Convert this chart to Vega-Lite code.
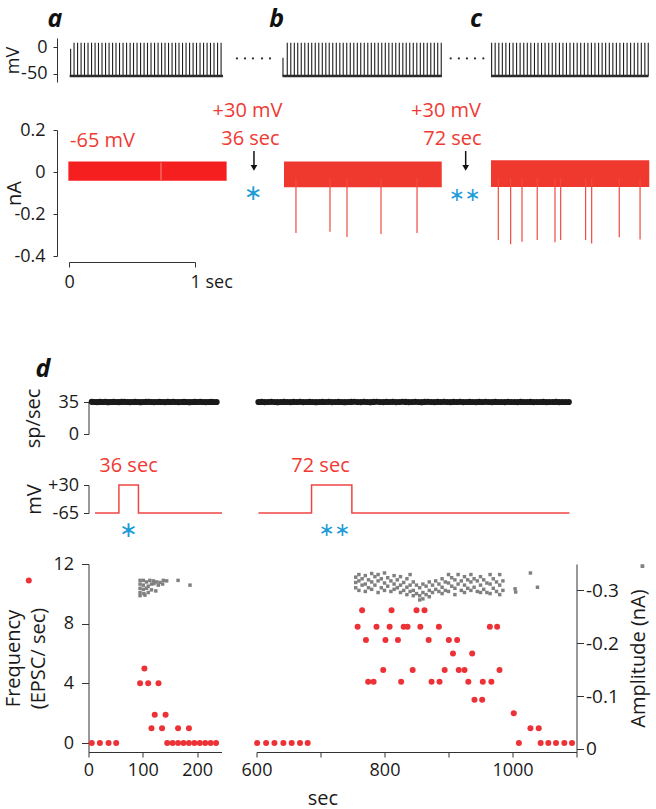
{
"$schema":"https://vega.github.io/schema/vega-lite/v6.json",
"background":"white",
"autosize":{"type":"none"},
"padding":{"left":69,"top":38,"right":587,"bottom":771},
"config":{"view":{"stroke":null},"font":"Open Sans",
 "axis":{"labelFont":"Open Sans","titleFont":"Open Sans","labelFontSize":18,"titleFontSize":20,"titleFontWeight":"normal","labelColor":"#1a1a1a","titleColor":"#1a1a1a","domainColor":"#333","tickColor":"#333","grid":false,"labelOverlap":false,"labelFlush":false}},
"datasets":{
 "spkA":[{"t":0.013,"v":-3},{"t":0.040,"v":8},{"t":0.068,"v":8},{"t":0.096,"v":8},{"t":0.123,"v":8},{"t":0.151,"v":8},{"t":0.179,"v":8},{"t":0.207,"v":8},{"t":0.234,"v":8},{"t":0.262,"v":8},{"t":0.290,"v":8},{"t":0.318,"v":8},{"t":0.346,"v":8},{"t":0.373,"v":8},{"t":0.401,"v":8},{"t":0.429,"v":8},{"t":0.457,"v":8},{"t":0.485,"v":8},{"t":0.512,"v":8},{"t":0.540,"v":8},{"t":0.568,"v":8},{"t":0.596,"v":8},{"t":0.623,"v":8},{"t":0.651,"v":8},{"t":0.679,"v":8},{"t":0.707,"v":8},{"t":0.735,"v":8},{"t":0.762,"v":8},{"t":0.790,"v":8},{"t":0.818,"v":8},{"t":0.846,"v":8},{"t":0.873,"v":8},{"t":0.901,"v":8},{"t":0.929,"v":8},{"t":0.957,"v":8},{"t":0.985,"v":8},{"t":1.012,"v":8},{"t":1.040,"v":8},{"t":1.068,"v":8},{"t":1.096,"v":8},{"t":1.123,"v":8},{"t":1.151,"v":8},{"t":1.179,"v":8},{"t":1.207,"v":8}],
 "spkB":[{"t":-0.016,"v":-20},{"t":0.018,"v":8},{"t":0.046,"v":8},{"t":0.074,"v":8},{"t":0.101,"v":8},{"t":0.129,"v":8},{"t":0.157,"v":8},{"t":0.185,"v":8},{"t":0.212,"v":8},{"t":0.240,"v":8},{"t":0.268,"v":8},{"t":0.296,"v":8},{"t":0.324,"v":8},{"t":0.351,"v":8},{"t":0.379,"v":8},{"t":0.407,"v":8},{"t":0.435,"v":8},{"t":0.462,"v":8},{"t":0.490,"v":8},{"t":0.518,"v":8},{"t":0.546,"v":8},{"t":0.574,"v":8},{"t":0.601,"v":8},{"t":0.629,"v":8},{"t":0.657,"v":8},{"t":0.685,"v":8},{"t":0.712,"v":8},{"t":0.740,"v":8},{"t":0.768,"v":8},{"t":0.796,"v":8},{"t":0.824,"v":8},{"t":0.851,"v":8},{"t":0.879,"v":8},{"t":0.907,"v":8},{"t":0.935,"v":8},{"t":0.962,"v":8},{"t":0.990,"v":8},{"t":1.018,"v":8},{"t":1.046,"v":8},{"t":1.074,"v":8},{"t":1.101,"v":8},{"t":1.129,"v":8},{"t":1.157,"v":8},{"t":1.185,"v":8},{"t":1.212,"v":8},{"t":1.240,"v":8}],
 "spkC":[{"t":0.005,"v":8},{"t":0.033,"v":8},{"t":0.062,"v":8},{"t":0.090,"v":8},{"t":0.118,"v":8},{"t":0.147,"v":8},{"t":0.175,"v":8},{"t":0.203,"v":8},{"t":0.231,"v":8},{"t":0.260,"v":8},{"t":0.288,"v":8},{"t":0.316,"v":8},{"t":0.345,"v":8},{"t":0.373,"v":8},{"t":0.401,"v":8},{"t":0.429,"v":8},{"t":0.458,"v":8},{"t":0.486,"v":8},{"t":0.514,"v":8},{"t":0.543,"v":8},{"t":0.571,"v":8},{"t":0.599,"v":8},{"t":0.627,"v":8},{"t":0.656,"v":8},{"t":0.684,"v":8},{"t":0.712,"v":8},{"t":0.741,"v":8},{"t":0.769,"v":8},{"t":0.797,"v":8},{"t":0.825,"v":8},{"t":0.854,"v":8},{"t":0.882,"v":8},{"t":0.910,"v":8},{"t":0.939,"v":8},{"t":0.967,"v":8},{"t":0.995,"v":8},{"t":1.023,"v":8},{"t":1.052,"v":8},{"t":1.080,"v":8},{"t":1.108,"v":8},{"t":1.137,"v":8},{"t":1.165,"v":8},{"t":1.193,"v":8},{"t":1.221,"v":8},{"t":1.248,"v":8}],
 "dotA":[{"t":1.333},{"t":1.397},{"t":1.46},{"t":1.532},{"t":1.595}],
 "dotB":[{"t":1.315},{"t":1.38},{"t":1.444},{"t":1.508},{"t":1.574}],
 "bands":[{"p":"a","t0":-0.005,"t1":1.251,"hi":0.05,"lo":-0.042},{"p":"b","t0":-0.008,"t1":1.244,"hi":0.05,"lo":-0.073},{"p":"c","t0":0.0,"t1":1.256,"hi":0.056,"lo":-0.071}],
 "epB":[{"t":0.087,"v":-0.29},{"t":0.357,"v":-0.285},{"t":0.492,"v":-0.31},{"t":0.762,"v":-0.295},{"t":1.048,"v":-0.29}],
 "epC":[{"t":0.058,"v":-0.324},{"t":0.156,"v":-0.344},{"t":0.246,"v":-0.332},{"t":0.367,"v":-0.324},{"t":0.508,"v":-0.335},{"t":0.553,"v":-0.324},{"t":0.751,"v":-0.324},{"t":0.799,"v":-0.34},{"t":1.018,"v":-0.311},{"t":1.183,"v":-0.321}],
 "rateL":[{"t":6,"r":35.2},{"t":11,"r":35.0},{"t":16,"r":34.9},{"t":21,"r":35.1},{"t":26,"r":35.0},{"t":31,"r":35.2},{"t":36,"r":34.8},{"t":41,"r":35.0},{"t":46,"r":35.1},{"t":51,"r":35.0},{"t":56,"r":34.9},{"t":61,"r":35.1},{"t":66,"r":35.2},{"t":71,"r":35.0},{"t":76,"r":34.9},{"t":81,"r":35.0},{"t":86,"r":35.1},{"t":91,"r":35.0},{"t":96,"r":34.8},{"t":101,"r":35.0},{"t":106,"r":35.1},{"t":111,"r":35.2},{"t":116,"r":35.0},{"t":121,"r":34.9},{"t":126,"r":35.0},{"t":131,"r":35.1},{"t":136,"r":35.0},{"t":141,"r":34.9},{"t":146,"r":35.1},{"t":151,"r":35.0},{"t":156,"r":35.2},{"t":161,"r":35.0},{"t":166,"r":34.9},{"t":171,"r":35.0},{"t":176,"r":35.1},{"t":181,"r":35.0},{"t":186,"r":34.8},{"t":191,"r":35.0},{"t":196,"r":35.1},{"t":201,"r":35.0},{"t":206,"r":35.2},{"t":211,"r":35.0},{"t":216,"r":34.9},{"t":221,"r":35.0},{"t":226,"r":35.1},{"t":231,"r":35.0},{"t":236,"r":35.0}],
 "rateR":[{"t":603,"r":35.0},{"t":608,"r":35.1},{"t":613,"r":34.9},{"t":618,"r":35.0},{"t":623,"r":35.2},{"t":628,"r":35.0},{"t":633,"r":34.8},{"t":638,"r":35.0},{"t":643,"r":35.1},{"t":648,"r":35.0},{"t":653,"r":34.9},{"t":658,"r":35.1},{"t":663,"r":35.0},{"t":668,"r":35.2},{"t":673,"r":34.9},{"t":678,"r":35.0},{"t":683,"r":35.1},{"t":688,"r":35.0},{"t":693,"r":34.8},{"t":698,"r":35.0},{"t":703,"r":35.1},{"t":708,"r":35.0},{"t":713,"r":35.2},{"t":718,"r":34.9},{"t":723,"r":35.0},{"t":728,"r":35.1},{"t":733,"r":35.0},{"t":738,"r":34.8},{"t":743,"r":35.0},{"t":748,"r":35.1},{"t":753,"r":35.3},{"t":758,"r":35.0},{"t":763,"r":34.9},{"t":768,"r":35.2},{"t":773,"r":35.0},{"t":778,"r":34.8},{"t":783,"r":35.1},{"t":788,"r":35.3},{"t":793,"r":35.0},{"t":798,"r":34.9},{"t":803,"r":35.1},{"t":808,"r":35.0},{"t":813,"r":35.2},{"t":818,"r":34.9},{"t":823,"r":35.0},{"t":828,"r":35.3},{"t":833,"r":35.1},{"t":838,"r":34.9},{"t":843,"r":35.0},{"t":848,"r":35.2},{"t":853,"r":35.0},{"t":858,"r":34.8},{"t":863,"r":35.1},{"t":868,"r":35.2},{"t":873,"r":35.0},{"t":878,"r":34.9},{"t":883,"r":35.1},{"t":888,"r":35.0},{"t":893,"r":35.2},{"t":898,"r":35.0},{"t":903,"r":34.9},{"t":908,"r":35.1},{"t":913,"r":35.0},{"t":918,"r":35.2},{"t":923,"r":34.9},{"t":928,"r":35.0},{"t":933,"r":35.1},{"t":938,"r":35.0},{"t":943,"r":34.9},{"t":948,"r":35.1},{"t":953,"r":35.0},{"t":958,"r":35.2},{"t":963,"r":35.0},{"t":968,"r":34.9},{"t":973,"r":35.1},{"t":978,"r":35.0},{"t":983,"r":35.0},{"t":988,"r":34.9},{"t":993,"r":35.1},{"t":998,"r":35.0},{"t":1003,"r":35.0},{"t":1008,"r":34.9},{"t":1013,"r":35.1},{"t":1018,"r":35.0},{"t":1023,"r":35.0},{"t":1028,"r":35.1},{"t":1033,"r":34.9},{"t":1038,"r":35.0},{"t":1043,"r":35.0},{"t":1048,"r":35.1},{"t":1053,"r":34.9},{"t":1058,"r":35.0},{"t":1063,"r":35.0},{"t":1068,"r":35.1},{"t":1073,"r":34.9},{"t":1078,"r":35.0},{"t":1083,"r":35.0},{"t":1088,"r":35.0}],
 "stepL":[{"t":12,"v":-65},{"t":56,"v":30},{"t":92,"v":-65},{"t":246,"v":-65}],
 "stepR":[{"t":603,"v":-65},{"t":686,"v":30},{"t":749,"v":-65},{"t":1089,"v":-65}],
 "freqL":[{"t":6,"f":0},{"t":21,"f":0},{"t":37,"f":0},{"t":51,"f":0},{"t":95,"f":4},{"t":103,"f":5},{"t":110,"f":4},{"t":129,"f":4},{"t":122,"f":1.9},{"t":142,"f":1.9},{"t":116,"f":1},{"t":135.5,"f":1},{"t":165,"f":1},{"t":185,"f":1},{"t":145,"f":0},{"t":155,"f":0},{"t":165,"f":0},{"t":175,"f":0},{"t":185,"f":0},{"t":195,"f":0},{"t":205,"f":0},{"t":215,"f":0},{"t":225,"f":0},{"t":235,"f":0}],
 "freqR":[{"t":601,"f":0},{"t":615,"f":0},{"t":628,"f":0},{"t":642,"f":0},{"t":655,"f":0},{"t":668,"f":0},{"t":680,"f":0},
  {"t":765,"f":8.9},{"t":811,"f":8.9},{"t":850,"f":8.9},{"t":862.5,"f":8.9},
  {"t":758,"f":7.8},{"t":787.5,"f":7.8},{"t":808,"f":7.8},{"t":830,"f":7.8},{"t":836,"f":7.8},{"t":856,"f":7.8},{"t":885,"f":7.8},{"t":964.6,"f":7.8},{"t":976,"f":7.8},
  {"t":771,"f":6.9},{"t":801.5,"f":6.9},{"t":821,"f":6.9},{"t":869,"f":6.9},{"t":900.5,"f":6.9},{"t":913.5,"f":6.9},
  {"t":907,"f":6.0},{"t":937,"f":6.0},
  {"t":798,"f":4.9},{"t":844,"f":4.9},{"t":894,"f":4.9},{"t":916,"f":4.9},{"t":925,"f":4.9},{"t":979.7,"f":4.9},
  {"t":774.5,"f":4.1},{"t":783,"f":4.1},{"t":826,"f":4.1},{"t":873.5,"f":4.1},{"t":886,"f":4.1},{"t":931,"f":4.1},{"t":953.6,"f":4.1},{"t":967,"f":4.1},
  {"t":940.6,"f":2.9},{"t":952.6,"f":2.9},
  {"t":1002,"f":2.0},
  {"t":1028,"f":1.0},{"t":1041,"f":1.0},
  {"t":1010,"f":0},{"t":1044,"f":0},{"t":1056,"f":0},{"t":1068,"f":0},{"t":1081,"f":0},{"t":1093,"f":0}],
 "ampL":[{"t":95,"a":-0.319},{"t":101,"a":-0.319},{"t":107,"a":-0.316},{"t":113,"a":-0.319},{"t":119.5,"a":-0.318},{"t":125.6,"a":-0.316},{"t":131.7,"a":-0.315},{"t":137.8,"a":-0.319},{"t":144,"a":-0.318},
  {"t":95,"a":-0.312},{"t":101,"a":-0.31},{"t":110,"a":-0.308},{"t":116,"a":-0.312},{"t":120.6,"a":-0.313},{"t":128.5,"a":-0.31},{"t":136.6,"a":-0.312},
  {"t":95,"a":-0.304},{"t":101,"a":-0.302},{"t":107,"a":-0.304},{"t":116,"a":-0.301},{"t":124,"a":-0.299},
  {"t":95,"a":-0.296},{"t":102,"a":-0.294},{"t":110,"a":-0.296},{"t":95,"a":-0.29},{"t":104,"a":-0.291},
  {"t":165,"a":-0.319},{"t":187,"a":-0.31}],
 "ampR":[{"t":755,"a":-0.325},{"t":755,"a":-0.315},{"t":755,"a":-0.305},{"t":760,"a":-0.33},{"t":760,"a":-0.318},{"t":760,"a":-0.3},{"t":765,"a":-0.322},{"t":765,"a":-0.31},{"t":770,"a":-0.328},{"t":770,"a":-0.312},{"t":770,"a":-0.298},{"t":775,"a":-0.32},{"t":775,"a":-0.305},{"t":780,"a":-0.332},{"t":780,"a":-0.316},{"t":780,"a":-0.302},{"t":785,"a":-0.326},{"t":785,"a":-0.31},{"t":790,"a":-0.33},{"t":790,"a":-0.318},{"t":790,"a":-0.296},{"t":795,"a":-0.322},{"t":795,"a":-0.305},{"t":800,"a":-0.333},{"t":800,"a":-0.314},{"t":800,"a":-0.3},{"t":805,"a":-0.324},{"t":805,"a":-0.308},{"t":810,"a":-0.318},{"t":810,"a":-0.298},{"t":815,"a":-0.328},{"t":815,"a":-0.312},{"t":815,"a":-0.302},{"t":820,"a":-0.32},{"t":820,"a":-0.305},{"t":825,"a":-0.326},{"t":825,"a":-0.31},{"t":825,"a":-0.296},{"t":830,"a":-0.315},{"t":830,"a":-0.3},{"t":835,"a":-0.322},{"t":835,"a":-0.306},{"t":835,"a":-0.292},{"t":840,"a":-0.33},{"t":840,"a":-0.31},{"t":840,"a":-0.298},{"t":845,"a":-0.316},{"t":845,"a":-0.3},{"t":845,"a":-0.29},{"t":850,"a":-0.31},{"t":850,"a":-0.294},{"t":855,"a":-0.305},{"t":855,"a":-0.29},{"t":855,"a":-0.282},{"t":860,"a":-0.312},{"t":860,"a":-0.296},{"t":860,"a":-0.284},{"t":865,"a":-0.308},{"t":865,"a":-0.292},{"t":870,"a":-0.316},{"t":870,"a":-0.3},{"t":870,"a":-0.288},{"t":875,"a":-0.31},{"t":875,"a":-0.296},{"t":880,"a":-0.318},{"t":880,"a":-0.302},{"t":885,"a":-0.312},{"t":885,"a":-0.298},{"t":890,"a":-0.322},{"t":890,"a":-0.306},{"t":890,"a":-0.294},{"t":895,"a":-0.316},{"t":895,"a":-0.3},{"t":900,"a":-0.33},{"t":900,"a":-0.314},{"t":900,"a":-0.298},{"t":905,"a":-0.324},{"t":905,"a":-0.308},{"t":910,"a":-0.32},{"t":910,"a":-0.304},{"t":910,"a":-0.292},{"t":915,"a":-0.33},{"t":915,"a":-0.312},{"t":920,"a":-0.318},{"t":920,"a":-0.3},{"t":925,"a":-0.326},{"t":925,"a":-0.31},{"t":925,"a":-0.296},{"t":930,"a":-0.32},{"t":930,"a":-0.304},{"t":935,"a":-0.33},{"t":935,"a":-0.316},{"t":935,"a":-0.3},{"t":940,"a":-0.322},{"t":940,"a":-0.306},{"t":945,"a":-0.318},{"t":945,"a":-0.298},{"t":950,"a":-0.326},{"t":950,"a":-0.31},{"t":950,"a":-0.296},{"t":955,"a":-0.32},{"t":955,"a":-0.302},{"t":960,"a":-0.314},{"t":960,"a":-0.296},{"t":965,"a":-0.33},{"t":965,"a":-0.312},{"t":965,"a":-0.294},{"t":970,"a":-0.322},{"t":970,"a":-0.304},{"t":975,"a":-0.316},{"t":975,"a":-0.298},{"t":980,"a":-0.33},{"t":980,"a":-0.31},{"t":980,"a":-0.292},{"t":985,"a":-0.318},{"t":985,"a":-0.3},{"t":1004,"a":-0.303},{"t":1005,"a":-0.297},{"t":1028,"a":-0.333},{"t":1039,"a":-0.306}]
},
"vconcat":[
 {"vconcat":[
  {"hconcat":[
   {"width":126,"height":44,
    "layer":[
     {"data":{"name":"spkA"},"mark":{"type":"rule","color":"#1e1e1e","strokeWidth":1.1},
      "encoding":{"x":{"field":"t","type":"quantitative","scale":{"domain":[0,1],"nice":false,"zero":false},"axis":null},
       "y":{"field":"v","type":"quantitative","scale":{"domain":[-65,17],"nice":false,"zero":false},"axis":{"values":[0,-50],"labelExpr":"datum.value==0?'0':'-50'","title":"mV","titleFontSize":18,"offset":12,"tickSize":4,"labelPadding":6,"titlePadding":-2}},
       "y2":{"datum":-54}}},
     {"data":{"values":[{"t0":0.005,"t1":1.222}]},"mark":{"type":"rule","color":"#2a2a2a","strokeWidth":2.5},"encoding":{"x":{"field":"t0","type":"quantitative"},"x2":{"field":"t1"},"y":{"datum":-54}}},
     {"data":{"name":"dotA"},"mark":{"type":"point","filled":true,"color":"#333","size":5,"opacity":1},"encoding":{"x":{"field":"t","type":"quantitative"},"y":{"datum":-21}}},
     {"data":{"values":[{}]},"mark":{"type":"text","text":"a","align":"center","baseline":"alphabetic","fontSize":25,"fontWeight":"bold","fontStyle":"italic","color":"#111"},"encoding":{"x":{"datum":-0.111},"y":{"datum":38}}}
    ]},
   {"width":116,"height":44,
    "layer":[
     {"data":{"name":"spkB"},"mark":{"type":"rule","color":"#1e1e1e","strokeWidth":1.1},
      "encoding":{"x":{"field":"t","type":"quantitative","scale":{"domain":[0,0.92063],"nice":false,"zero":false},"axis":null},
       "y":{"field":"v","type":"quantitative","scale":{"domain":[-65,17],"nice":false,"zero":false},"axis":null},
       "y2":{"datum":-54}}},
     {"data":{"values":[{"t0":-0.02,"t1":1.245}]},"mark":{"type":"rule","color":"#2a2a2a","strokeWidth":2.5},"encoding":{"x":{"field":"t0","type":"quantitative"},"x2":{"field":"t1"},"y":{"datum":-54}}},
     {"data":{"name":"dotB"},"mark":{"type":"point","filled":true,"color":"#333","size":5,"opacity":1},"encoding":{"x":{"field":"t","type":"quantitative"},"y":{"datum":-21}}},
     {"data":{"values":[{}]},"mark":{"type":"text","text":"b","align":"center","baseline":"alphabetic","fontSize":25,"fontWeight":"bold","fontStyle":"italic","color":"#111"},"encoding":{"x":{"datum":-0.066},"y":{"datum":38}}}
    ]},
   {"width":126,"height":44,
    "layer":[
     {"data":{"name":"spkC"},"mark":{"type":"rule","color":"#1e1e1e","strokeWidth":1.1},
      "encoding":{"x":{"field":"t","type":"quantitative","scale":{"domain":[0,1],"nice":false,"zero":false},"axis":null},
       "y":{"field":"v","type":"quantitative","scale":{"domain":[-65,17],"nice":false,"zero":false},"axis":null},
       "y2":{"datum":-54}}},
     {"data":{"values":[{"t0":0.0,"t1":1.25}]},"mark":{"type":"rule","color":"#2a2a2a","strokeWidth":2.5},"encoding":{"x":{"field":"t0","type":"quantitative"},"x2":{"field":"t1"},"y":{"datum":-54}}},
     {"data":{"values":[{}]},"mark":{"type":"text","text":"c","align":"center","baseline":"alphabetic","fontSize":25,"fontWeight":"bold","fontStyle":"italic","color":"#111"},"encoding":{"x":{"datum":-0.119},"y":{"datum":38}}}
    ]}
  ],"spacing":90,"bounds":"flush"},
  {"hconcat":[
   {"width":126,"height":126,
    "layer":[
     {"data":{"name":"bands"},"transform":[{"filter":"datum.p=='a'"}],"mark":{"type":"rect","color":"#f51f1f"},
      "encoding":{"x":{"field":"t0","type":"quantitative","scale":{"domain":[0,1],"nice":false,"zero":false},"axis":{"values":[0,1],"labelExpr":"datum.value==1?'1 sec':'0'","title":null,"offset":6,"tickSize":5,"labelAlign":"left","labelOffset":-5,"labelPadding":6}},
       "x2":{"field":"t1"},
       "y":{"field":"hi","type":"quantitative","scale":{"domain":[-0.4,0.2],"nice":false,"zero":false},"axis":{"values":[-0.4,-0.3,-0.2,-0.1,0,0.1,0.2],"labelExpr":"datum.value==0.2?'0.2':datum.value==0?'0':datum.value==-0.2?'-0.2':datum.value==-0.4?'-0.4':''","title":"nA","offset":12,"tickSize":4,"labelPadding":8,"titlePadding":-11}},
       "y2":{"field":"lo"}}},
     {"data":{"values":[{}]},"mark":{"type":"rule","color":"#ff8a80","strokeWidth":1},"encoding":{"x":{"datum":0.73},"y":{"datum":0.045},"y2":{"datum":-0.038}}},
     {"data":{"values":[{}]},"mark":{"type":"text","text":"-65 mV","align":"left","baseline":"alphabetic","fontSize":20,"color":"#ef3a34"},"encoding":{"x":{"datum":0.008},"y":{"datum":0.12}}},
     {"data":{"values":[{}]},"mark":{"type":"text","text":"+30 mV","align":"center","baseline":"alphabetic","fontSize":20,"color":"#ef3a34"},"encoding":{"x":{"datum":1.417},"y":{"datum":0.262}}},
     {"data":{"values":[{}]},"mark":{"type":"text","text":"36 sec","align":"center","baseline":"alphabetic","fontSize":20,"color":"#ef3a34"},"encoding":{"x":{"datum":1.44},"y":{"datum":0.129}}},
     {"data":{"values":[{}]},"mark":{"type":"rule","color":"#111","strokeWidth":1.5},"encoding":{"x":{"datum":1.468},"y":{"datum":0.1},"y2":{"datum":0.02}}},
     {"data":{"values":[{}]},"mark":{"type":"point","shape":"triangle-down","filled":true,"color":"#111","size":45,"opacity":1},"encoding":{"x":{"datum":1.468},"y":{"datum":0.02}}},
     {"data":{"values":[{}]},"mark":{"type":"text","text":"∗","align":"center","baseline":"middle","fontSize":22,"font":"DejaVu Sans","color":"#1d9bd7"},"encoding":{"x":{"datum":1.463},"y":{"datum":-0.101}}}
    ]},
   {"width":116,"height":126,
    "layer":[
     {"data":{"name":"bands"},"transform":[{"filter":"datum.p=='b'"}],"mark":{"type":"rect","color":"#f0392e"},
      "encoding":{"x":{"field":"t0","type":"quantitative","scale":{"domain":[0,0.92063],"nice":false,"zero":false},"axis":null},
       "x2":{"field":"t1"},
       "y":{"field":"hi","type":"quantitative","scale":{"domain":[-0.4,0.2],"nice":false,"zero":false},"axis":null},
       "y2":{"field":"lo"}}},
     {"data":{"name":"epB"},"mark":{"type":"rule","color":"#f04a40","strokeWidth":1.2},"encoding":{"x":{"field":"t","type":"quantitative"},"y":{"field":"v","type":"quantitative"},"y2":{"datum":-0.03}}},
     {"data":{"values":[{}]},"mark":{"type":"text","text":"+30 mV","align":"center","baseline":"alphabetic","fontSize":20,"color":"#ef3a34"},"encoding":{"x":{"datum":1.278},"y":{"datum":0.262}}},
     {"data":{"values":[{}]},"mark":{"type":"text","text":"72 sec","align":"center","baseline":"alphabetic","fontSize":20,"color":"#ef3a34"},"encoding":{"x":{"datum":1.329},"y":{"datum":0.129}}},
     {"data":{"values":[{}]},"mark":{"type":"rule","color":"#111","strokeWidth":1.5},"encoding":{"x":{"datum":1.434},"y":{"datum":0.1},"y2":{"datum":0.02}}},
     {"data":{"values":[{}]},"mark":{"type":"point","shape":"triangle-down","filled":true,"color":"#111","size":45,"opacity":1},"encoding":{"x":{"datum":1.434},"y":{"datum":0.02}}},
     {"data":{"values":[{}]},"mark":{"type":"text","text":"∗∗","align":"center","baseline":"middle","fontSize":19,"font":"DejaVu Sans","color":"#1d9bd7"},"encoding":{"x":{"datum":1.427},"y":{"datum":-0.11}}}
    ]},
   {"width":126,"height":126,
    "layer":[
     {"data":{"name":"bands"},"transform":[{"filter":"datum.p=='c'"}],"mark":{"type":"rect","color":"#f0392e"},
      "encoding":{"x":{"field":"t0","type":"quantitative","scale":{"domain":[0,1],"nice":false,"zero":false},"axis":null},
       "x2":{"field":"t1"},
       "y":{"field":"hi","type":"quantitative","scale":{"domain":[-0.4,0.2],"nice":false,"zero":false},"axis":null},
       "y2":{"field":"lo"}}},
     {"data":{"name":"epC"},"mark":{"type":"rule","color":"#f04a40","strokeWidth":1.2},"encoding":{"x":{"field":"t","type":"quantitative"},"y":{"field":"v","type":"quantitative"},"y2":{"datum":-0.03}}}
    ]}
  ],"spacing":90,"bounds":"flush"}
 ],"spacing":92,"bounds":"flush"},
 {"hconcat":[
  {"width":1,"height":1,"data":{"values":[{}]},"mark":{"type":"point","opacity":0}},
  {"vconcat":[
   {"vconcat":[
    {"hconcat":[
     {"width":133,"height":32,
      "layer":[
       {"data":{"name":"rateL"},"mark":{"type":"circle","color":"#1a1a1a","size":38,"opacity":1},
        "encoding":{"x":{"field":"t","type":"quantitative","scale":{"domain":[0,245],"nice":false,"zero":false},"axis":null},
         "y":{"field":"r","type":"quantitative","scale":{"domain":[0,35],"nice":false,"zero":false},"axis":{"values":[0,35],"title":"sp/sec","tickSize":5,"labelPadding":5,"titlePadding":14}}}},
       {"data":{"values":[{}]},"mark":{"type":"text","text":"d","align":"center","baseline":"alphabetic","fontSize":25,"fontWeight":"bold","fontStyle":"italic","color":"#111"},"encoding":{"x":{"datum":-84},"y":{"datum":62.7}}}
      ]},
     {"width":320,"height":32,
      "data":{"name":"rateR"},"mark":{"type":"circle","color":"#1a1a1a","size":38,"opacity":1},
      "encoding":{"x":{"field":"t","type":"quantitative","scale":{"domain":[600,1100],"nice":false,"zero":false},"axis":null},
       "y":{"field":"r","type":"quantitative","scale":{"domain":[0,35],"nice":false,"zero":false},"axis":null}}}
    ],"spacing":35,"bounds":"flush"},
    {"hconcat":[
     {"width":133,"height":28,
      "layer":[
       {"data":{"name":"stepL"},"mark":{"type":"line","interpolate":"step-after","color":"#f04545","strokeWidth":1.5},
        "encoding":{"x":{"field":"t","type":"quantitative","scale":{"domain":[0,245],"nice":false,"zero":false},"axis":null},
         "y":{"field":"v","type":"quantitative","scale":{"domain":[-65,30],"nice":false,"zero":false},"axis":{"values":[-65,30],"labelExpr":"datum.value==30?'+30':'-65'","title":"mV","tickSize":5,"labelPadding":5,"titlePadding":3}}}},
       {"data":{"values":[{}]},"mark":{"type":"text","text":"36 sec","align":"center","baseline":"alphabetic","fontSize":20,"color":"#ef3a34"},"encoding":{"x":{"datum":73.7},"y":{"datum":74}}},
       {"data":{"values":[{}]},"mark":{"type":"text","text":"∗","align":"center","baseline":"middle","fontSize":22,"font":"DejaVu Sans","color":"#1d9bd7"},"encoding":{"x":{"datum":73.5},"y":{"datum":-122}}}
      ]},
     {"width":320,"height":28,
      "layer":[
       {"data":{"name":"stepR"},"mark":{"type":"line","interpolate":"step-after","color":"#f04545","strokeWidth":1.5},
        "encoding":{"x":{"field":"t","type":"quantitative","scale":{"domain":[600,1100],"nice":false,"zero":false},"axis":null},
         "y":{"field":"v","type":"quantitative","scale":{"domain":[-65,30],"nice":false,"zero":false},"axis":null}}},
       {"data":{"values":[{}]},"mark":{"type":"text","text":"72 sec","align":"center","baseline":"alphabetic","fontSize":20,"color":"#ef3a34"},"encoding":{"x":{"datum":700},"y":{"datum":74}}},
       {"data":{"values":[{}]},"mark":{"type":"text","text":"∗∗","align":"center","baseline":"middle","fontSize":19,"font":"DejaVu Sans","color":"#1d9bd7"},"encoding":{"x":{"datum":722},"y":{"datum":-122}}}
      ]}
    ],"spacing":35,"bounds":"flush"}
   ],"spacing":83,"bounds":"flush"},
   {"hconcat":[
    {"width":133,"height":188,
     "layer":[
      {"data":{"name":"ampL"},"mark":{"type":"square","color":"#808080","size":12,"opacity":1},
       "encoding":{"x":{"field":"t","type":"quantitative","scale":{"domain":[0,245],"nice":false,"zero":false},"axis":{"values":[0,50,100,150,200],"labelExpr":"datum.value%100==0?''+datum.value:''","title":null,"tickSize":5,"labelPadding":4}},
        "y":{"field":"a","type":"quantitative","scale":{"domain":[0.006,-0.35],"nice":false,"zero":false},"axis":null}}},
      {"layer":[
        {"data":{"name":"freqL"},"mark":{"type":"circle","color":"#ec3237","size":36,"opacity":1},
         "encoding":{"x":{"field":"t","type":"quantitative"},
          "y":{"field":"f","type":"quantitative","scale":{"domain":[-0.6,12],"nice":false,"zero":false},"axis":{"orient":"left","values":[0,2,4,6,8,10,12],"labelExpr":"datum.value%4==0?''+datum.value:''","title":["Frequency","(EPSC/ sec)"],"titleLineHeight":25,"tickSize":7,"labelPadding":8,"titlePadding":4}}}},
        {"data":{"values":[{}]},"mark":{"type":"circle","color":"#ec3237","size":36,"opacity":1},"encoding":{"x":{"datum":-110},"y":{"datum":10.9}}}
      ]}
     ],
     "resolve":{"scale":{"y":"independent"}}},
    {"width":320,"height":188,
     "layer":[
      {"layer":[
        {"data":{"name":"ampR"},"mark":{"type":"square","color":"#808080","size":12,"opacity":1},
         "encoding":{"x":{"field":"t","type":"quantitative","scale":{"domain":[600,1100],"nice":false,"zero":false},"axis":{"values":[600,700,800,900,1000,1100],"labelExpr":"datum.value%200==0?''+datum.value:''","title":"sec","titleX":66,"titleAlign":"center","tickSize":5,"labelPadding":4,"titlePadding":9}},
          "y":{"field":"a","type":"quantitative","scale":{"domain":[0.006,-0.35],"nice":false,"zero":false},"axis":{"orient":"right","values":[0,-0.1,-0.2,-0.3],"labelExpr":"datum.value==0?'0':'-'+format(-datum.value,'.1f')","title":"Amplitude (nA)","titleAngle":270,"labelFontSize":19,"tickSize":7,"labelPadding":2,"titlePadding":30}}}},
        {"data":{"values":[{}]},"mark":{"type":"square","color":"#808080","size":14,"opacity":1},"encoding":{"x":{"datum":1203},"y":{"datum":-0.346}}}
      ]},
      {"data":{"name":"freqR"},"mark":{"type":"circle","color":"#ec3237","size":36,"opacity":1},
       "encoding":{"x":{"field":"t","type":"quantitative"},
        "y":{"field":"f","type":"quantitative","scale":{"domain":[-0.6,12],"nice":false,"zero":false},"axis":null}}}
     ],
     "resolve":{"scale":{"y":"independent"}}}
   ],"spacing":35,"bounds":"flush"}
  ],"spacing":162,"bounds":"flush"}
 ],"spacing":18.5,"bounds":"flush"}
],
"spacing":364,
"bounds":"flush"
}
